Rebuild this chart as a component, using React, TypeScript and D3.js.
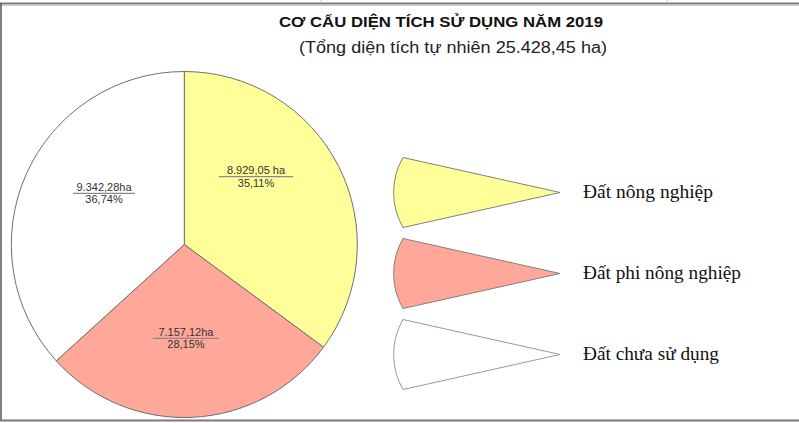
import React from "react";
import * as d3 from "d3";

// ---- Data ----
const categories = ["Đất nông nghiệp", "Đất phi nông nghiệp", "Đất chưa sử dụng"];
const areas = [8929.05, 7157.12, 9342.28];
const areaLabels = ["8.929,05 ha", "7.157,12ha", "9.342,28ha"];
const percentLabels = ["35,11%", "28,15%", "36,74%"];
const title = "CƠ CẤU DIỆN TÍCH SỬ DỤNG NĂM 2019";
const subtitle = "(Tổng diện tích tự nhiên 25.428,45 ha)";

// ---- Styles / layout ----
const colors = ["#FFFF99", "#FFA89A", "#FFFFFF"];
const W = 799;
const H = 423;
const cx = 184.3;
const cy = 244.5;
const R = 173;
// label placement (polar, degrees clockwise from 12 o'clock)
const labelAngleDeg = [46.6, 179, 302.5];
const labelRadius = [98.7, 93.8, 95.2];
const labelLineWidth = [74, 66, 62];

const legendTipX = 560;
const legendBaseX = 403;
const legendHalf = 35;
const legendArcR = 70;
const legendY0 = 192.5;
const legendStep = 81;
const legendTextX = 583;
const legendTextWidths = [130, 158, 136];

export default function App() {
  const pie = d3.pie<number>().value((d) => d).sort(null).startAngle(0);
  const arcs = pie(areas);
  const arcGen = d3.arc<d3.PieArcDatum<number>>().innerRadius(0).outerRadius(R);

  return (
    <svg
      width={W}
      height={H}
      style={{ position: "fixed", left: 0, top: 0, background: "#fff" }}
      fontFamily="Arial, 'Liberation Sans', sans-serif"
    >
      {/* frame */}
      <line x1={0} x2={W} y1={3.5} y2={3.5} stroke="#7a7a7a" strokeWidth={2} />
      <line x1={0} x2={W} y1={5.5} y2={5.5} stroke="#d0d0d0" strokeWidth={1} />
      <line x1={1} x2={1} y1={3} y2={421} stroke="#555" strokeWidth={1.5} />
      <line x1={0} x2={W} y1={420.5} y2={420.5} stroke="#7a7a7a" strokeWidth={2} />
      <line x1={321} x2={321} y1={0} y2={2.5} stroke="#9fe4ee" strokeWidth={1} />
      <line x1={667} x2={667} y1={0} y2={2.5} stroke="#9fe4ee" strokeWidth={1} />

      {/* titles */}
      <text
        x={441}
        y={27}
        textAnchor="middle"
        fontWeight="bold"
        fontSize={15.5}
        fill="#111"
        textLength={324}
        lengthAdjust="spacingAndGlyphs"
      >
        {title}
      </text>
      <text
        x={453}
        y={53}
        textAnchor="middle"
        fontSize={16}
        fill="#222"
        textLength={308}
        lengthAdjust="spacingAndGlyphs"
      >
        {subtitle}
      </text>

      {/* pie */}
      <g transform={`translate(${cx},${cy})`}>
        {arcs.map((a, i) => (
          <path
            key={i}
            d={arcGen(a) || ""}
            fill={colors[i]}
            stroke="#6f6f6f"
            strokeWidth={1}
            strokeLinejoin="round"
          />
        ))}
        {arcs.map((a, i) => {
          const ang = (labelAngleDeg[i] * Math.PI) / 180;
          const lx = labelRadius[i] * Math.sin(ang);
          const ly = -labelRadius[i] * Math.cos(ang);
          const lw = labelLineWidth[i];
          return (
            <g key={"l" + i} transform={`translate(${lx},${ly})`}>
              <text x={0} y={-2.5} textAnchor="middle" fontSize={11} fill="#333">
                {areaLabels[i]}
              </text>
              <line x1={-lw / 2} x2={lw / 2} y1={0} y2={0} stroke="#8a8a8a" strokeWidth={1.2} />
              <text x={0} y={10} textAnchor="middle" fontSize={11} fill="#333">
                {percentLabels[i]}
              </text>
            </g>
          );
        })}
      </g>

      {/* legend */}
      {categories.map((c, i) => {
        const y = legendY0 + i * legendStep;
        const path = d3.path();
        path.moveTo(legendTipX, y);
        path.lineTo(legendBaseX, y - legendHalf);
        const d =
          path.toString() +
          ` A${legendArcR},${legendArcR} 0 0,0 ${legendBaseX},${y + legendHalf} Z`;
        return (
          <g key={"lg" + i}>
            <path
              d={d}
              fill={colors[i]}
              stroke={i === 2 ? "#999" : "#808080"}
              strokeWidth={1}
              strokeLinejoin="round"
            />
            <text
              x={legendTextX}
              y={y + 5}
              fontFamily="'Liberation Serif', 'Times New Roman', serif"
              fontSize={18}
              fill="#111"
              textLength={legendTextWidths[i]}
              lengthAdjust="spacingAndGlyphs"
            >
              {c}
            </text>
          </g>
        );
      })}
    </svg>
  );
}
